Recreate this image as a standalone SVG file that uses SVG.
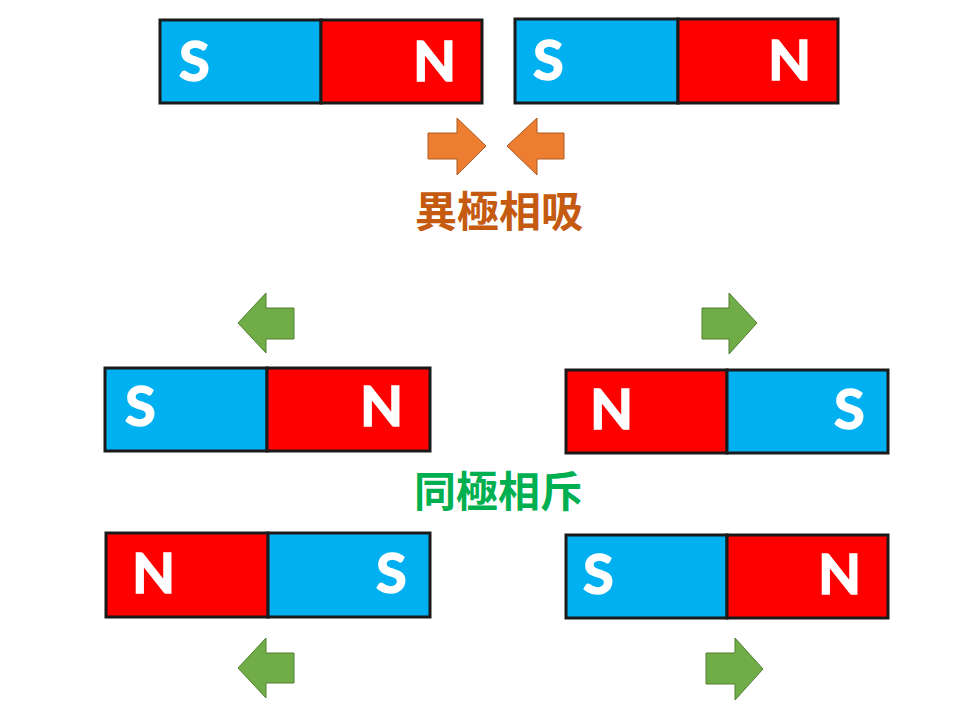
<svg xmlns="http://www.w3.org/2000/svg" width="960" height="720" viewBox="0 0 960 720">
<style>
.s{fill:#00B0F0;stroke:#1a1a1a;stroke-width:3}
.n{fill:#FF0000;stroke:#1a1a1a;stroke-width:3}
.l{fill:#ffffff;stroke:#ffffff;stroke-width:1.5;font-family:Lato,"Open Sans",sans-serif;font-weight:bold;font-size:56px}
.oa{fill:#ED7D31;stroke:#AE5A21;stroke-width:1}
.ga{fill:#70AD47;stroke:#507E32;stroke-width:1}
.cj{font-family:"Noto Sans CJK TC","Noto Sans CJK SC",sans-serif;font-weight:bold;font-size:42px;text-anchor:middle}
</style>
<rect width="960" height="720" fill="#ffffff"/>
<g id="magnet1">
<rect class="s" x="160" y="20" width="161" height="83"/>
<rect class="n" x="321" y="20" width="161" height="83"/>
<text class="l" x="179" y="81">S</text>
<text class="l" x="413" y="81">N</text>
</g>
<g id="magnet2">
<rect class="s" x="515" y="19" width="163" height="84"/>
<rect class="n" x="678" y="19" width="160" height="84"/>
<text class="l" x="533" y="80">S</text>
<text class="l" x="768" y="80">N</text>
</g>
<g id="magnet3">
<rect class="s" x="105" y="368" width="162" height="83"/>
<rect class="n" x="267" y="368" width="163" height="83"/>
<text class="l" x="125" y="426">S</text>
<text class="l" x="360" y="426">N</text>
</g>
<g id="magnet4">
<rect class="n" x="566" y="370" width="161" height="83"/>
<rect class="s" x="727" y="370" width="161" height="83"/>
<text class="l" x="590" y="429">N</text>
<text class="l" x="834" y="429">S</text>
</g>
<g id="magnet5">
<rect class="n" x="106" y="533" width="162" height="84"/>
<rect class="s" x="268" y="533" width="162" height="84"/>
<text class="l" x="132" y="593">N</text>
<text class="l" x="376" y="593">S</text>
</g>
<g id="magnet6">
<rect class="s" x="566" y="535" width="161" height="83"/>
<rect class="n" x="727" y="535" width="161" height="83"/>
<text class="l" x="583" y="594">S</text>
<text class="l" x="818" y="594">N</text>
</g>
<g id="arrows">
<polygon class="oa" points="428,133 457,133 457,118 486,146 457,175 457,159 428,159"/>
<polygon class="oa" points="564,133 537,133 537,118 507,146 537,175 537,159 564,159"/>
<polygon class="ga" points="294,308 266,308 266,293 238,323 266,353 266,339 294,339"/>
<polygon class="ga" points="702,308 729,308 729,293 757,323 729,354 729,339 702,339"/>
<polygon class="ga" points="294,653 266,653 266,638 238,668 266,698 266,683 294,683"/>
<polygon class="ga" points="706,653 735,653 735,638 763,669 735,700 735,684 706,684"/>
</g>
<g id="labels">
<text class="cj" x="499" y="227" fill="#C55A11">異極相吸</text>
<text class="cj" x="498" y="507" fill="#00B050">同極相斥</text>
</g>
</svg>
